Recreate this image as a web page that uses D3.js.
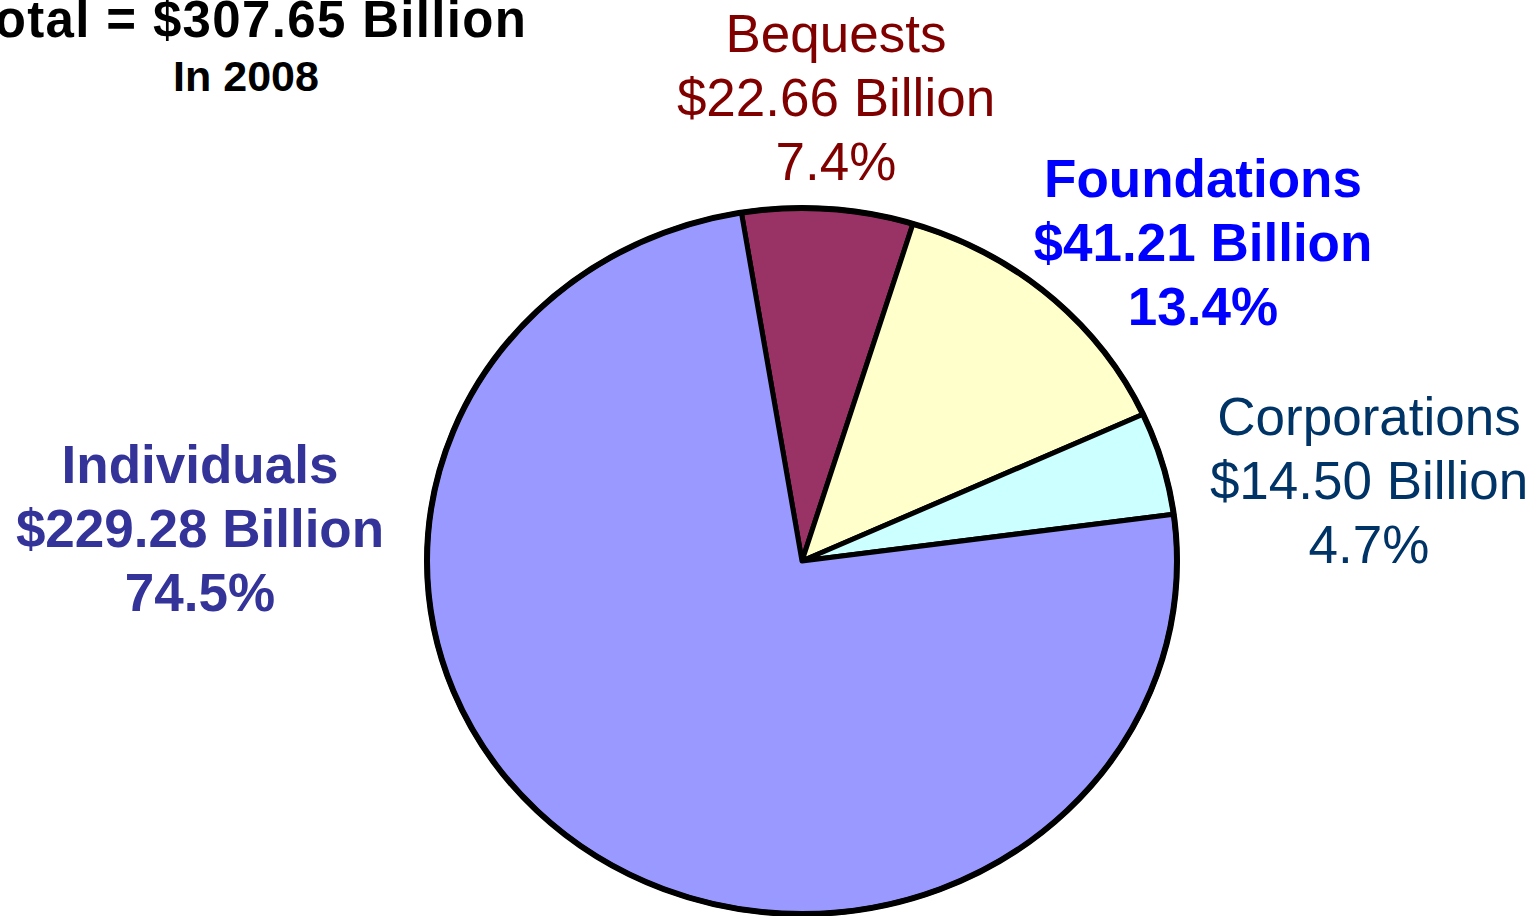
<!DOCTYPE html>
<html lang="en">

<head>
    <meta charset="UTF-8">
    <title>Giving by source 2008</title>
    <script src="https://cdn.jsdelivr.net/npm/d3@7/dist/d3.min.js"></script>
    <style>
        * {
            margin: 0;
            padding: 0;
        }
        body {
            background: #fff;
            overflow: hidden;
        }
        text {
            font-family: "Liberation Sans", Arial, Helvetica, sans-serif;
        }
    </style>
</head>

<body>
</body>
<script>
    const width = 1535
    const height = 916

    // data
    const categories = ['Bequests', 'Foundations', 'Corporations', 'Individuals']
    const amounts = [22.66, 41.21, 14.50, 229.28]
    const amountLabels = ['$22.66 Billion', '$41.21 Billion', '$14.50 Billion', '$229.28 Billion']
    const percentLabels = ['7.4%', '13.4%', '4.7%', '74.5%']
    const titleLines = ['Total = $307.65 Billion', 'In 2008']

    // look
    const sliceColors = ['#993366', '#FFFFCC', '#CCFFFF', '#9999FF']
    const textColors = ['#800000', '#0000FF', '#003366', '#333399']
    const textWeights = ['normal', 'bold', 'normal', 'bold']
    // label centre x and first baseline y
    const labelPos = [[836, 52], [1203, 197], [1369, 435], [200, 483]]

    const svg = d3.select('body')
        .append('svg')
        .attr('width', width)
        .attr('height', height)

    const cx = 802
    const cy = 561
    const rx = 375
    const ry = 353

    const start = -9.3 * Math.PI / 180
    const pie = d3.pie()
        .sort(null)
        .value(d => d)
        .startAngle(start)
        .endAngle(start + 2 * Math.PI)

    const arc = d3.arc()
        .innerRadius(0)
        .outerRadius(rx)

    const g = svg.append('g')
        .attr('transform', 'translate(' + cx + ',' + cy + ') scale(1,' + (ry / rx) + ')')

    g.selectAll('.slice')
        .data(pie(amounts))
        .enter()
        .append('path')
        .attr('class', 'slice')
        .attr('d', arc)
        .attr('fill', (d, i) => sliceColors[i])
        .attr('stroke', '#000')
        .attr('stroke-width', 5)
        .attr('stroke-linejoin', 'round')
        .attr('vector-effect', 'non-scaling-stroke')

    // outer rim a bit heavier
    g.append('ellipse')
        .attr('cx', 0)
        .attr('cy', 0)
        .attr('rx', rx)
        .attr('ry', rx)
        .attr('fill', 'none')
        .attr('stroke', '#000')
        .attr('stroke-width', 6)
        .attr('vector-effect', 'non-scaling-stroke')

    // labels
    const lineH = 64
    const labels = svg.selectAll('.label')
        .data(categories)
        .enter()
        .append('text')
        .attr('class', 'label')
        .attr('text-anchor', 'middle')
        .attr('font-size', 53)
        .attr('font-weight', (d, i) => textWeights[i])
        .attr('fill', (d, i) => textColors[i])

    labels.each(function (d, i) {
        const t = d3.select(this)
        const lines = [d, amountLabels[i], percentLabels[i]]
        lines.forEach((s, j) => {
            t.append('tspan')
                .attr('x', labelPos[i][0])
                .attr('y', labelPos[i][1] + j * lineH)
                .text(s)
        })
    })

    // title
    svg.append('text')
        .attr('x', 246)
        .attr('y', 37)
        .attr('text-anchor', 'middle')
        .attr('font-size', 51)
        .attr('font-weight', 'bold')
        .attr('textLength', 560)
        .attr('lengthAdjust', 'spacing')
        .text(titleLines[0])

    svg.append('text')
        .attr('x', 246)
        .attr('y', 91)
        .attr('text-anchor', 'middle')
        .attr('font-size', 43)
        .attr('font-weight', 'bold')
        .text(titleLines[1])
</script>

</html>
